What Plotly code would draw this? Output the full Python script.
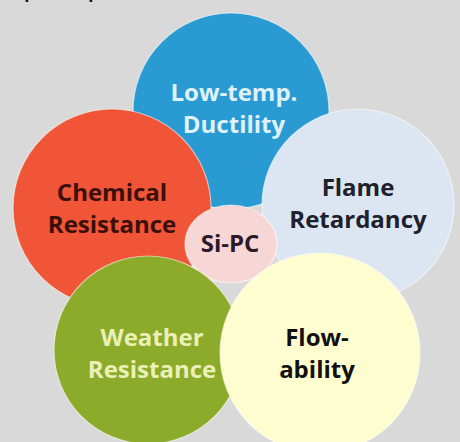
import plotly.graph_objects as go

# Diagram data: property bubbles around the central Si-PC bubble
labels = ["Low-temp.<br>Ductility", "Chemical<br>Resistance", "Flame<br>Retardancy",
          "Weather<br>Resistance", "Flow-<br>ability", "Si-PC"]
cx = [231, 112, 358, 148, 320, 231]
cy = [111, 208, 205, 350, 353, 244]
rx = [98, 99, 96, 94, 100, 46]
ry = [98, 99, 96, 94, 100, 39]
label_x = [234, 112, 358, 152, 317, 230]
label_y = [111, 211, 206, 356, 356, 246]
fill_colors = ["#2a9bd2", "#ef5536", "#dce6f2", "#8cab2a", "#fdfdd0", "#f7d6d6"]
text_colors = ["#dff2fb", "#3c0f0a", "#20202a", "#eaf0b8", "#111111", "#2a1a2a"]
# drawing order (back to front)
order = [0, 1, 2, 5, 3, 4]
caption = "Improved performance"

fig = go.Figure()

shapes = []
for i in order:
    shapes.append(dict(
        type="circle", xref="x", yref="y",
        x0=cx[i] - rx[i], x1=cx[i] + rx[i],
        y0=cy[i] - ry[i], y1=cy[i] + ry[i],
        fillcolor=fill_colors[i],
        line=dict(color="rgba(255,255,255,0.55)", width=1.2),
        layer="below",
    ))

fig.add_trace(go.Scatter(
    x=label_x, y=label_y, mode="text", text=labels,
    textposition="middle center",
    textfont=dict(family="Open Sans", size=24, color=text_colors, weight="bold"),
    hoverinfo="skip", showlegend=False, cliponaxis=False,
))

fig.add_annotation(
    x=0, y=5, xref="x", yref="y", text=caption, showarrow=False,
    xanchor="left", yanchor="bottom",
    font=dict(family="Open Sans", size=17, color="#111111", weight="bold"),
)

fig.update_layout(
    width=460, height=442,
    margin=dict(l=0, r=0, t=0, b=0),
    paper_bgcolor="#d9d9d9", plot_bgcolor="#d9d9d9",
    shapes=shapes,
    xaxis=dict(range=[0, 460], visible=False, fixedrange=True),
    yaxis=dict(range=[442, 0], visible=False, fixedrange=True),
    showlegend=False,
)

fig.write_html(
    "out.html",
    config={"displayModeBar": False, "staticPlot": True},
    post_script="document.body.style.margin='0';document.body.style.padding='0';"
                "document.body.style.overflow='hidden';"
                "document.body.style.background='#d9d9d9';",
)
